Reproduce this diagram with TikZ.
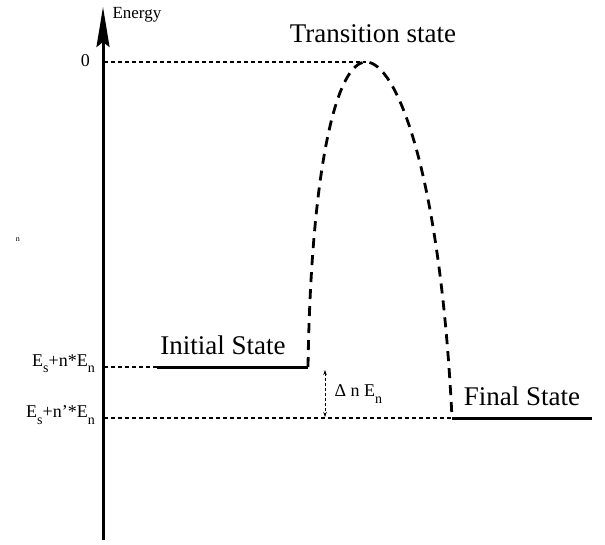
\documentclass[tikz,border=0pt]{standalone}
\usepackage{fontspec}
\setmainfont{Liberation Serif}
\usetikzlibrary{arrows.meta}
\newcommand{\lowsub}[1]{\raisebox{-0.35em}{\fontsize{14}{15}\selectfont #1}}
\begin{document}
\begin{tikzpicture}[x=1pt,y=-1pt,
  level/.style={line width=3pt},
  guide/.style={line width=1.1pt,dash pattern=on 4pt off 3pt},
  barrier/.style={line width=2.8pt,dash pattern=on 10pt off 7pt},
  statelabel/.style={font=\fontsize{27}{30}\selectfont},
  ticklabel/.style={anchor=east,font=\fontsize{18}{20}\selectfont,inner sep=1pt}]
  \useasboundingbox (0,0) rectangle (605,544);
  % energy axis
  \coordinate (origin) at (103,540);
  \coordinate (top) at (103,7);
  \draw[line width=3pt,-{Stealth[length=40pt,width=13pt,inset=5pt]}] (origin) -- (top);
  \node[anchor=west,font=\fontsize{17}{19}\selectfont] (energy) at (109,15) {Energy};
  % points on the axis and on the profile
  \coordinate (ax-ts) at (104,62);
  \coordinate (ax-is) at (104,367);
  \coordinate (ax-fs) at (104,418);
  \coordinate (ts) at (366,62);
  \coordinate (is-l) at (157,367);
  \coordinate (is-r) at (308,367);
  \coordinate (fs-l) at (452,418);
  \coordinate (fs-r) at (592,418);
  % guide lines
  \draw[guide] (ax-ts) -- (ts);
  \draw[guide] (ax-is) -- (is-l);
  \draw[guide] (ax-fs) -- (fs-l);
  % levels and barrier
  \draw[level] (is-l) -- (is-r);
  \draw[level] (fs-l) -- (fs-r);
  \draw[barrier] (is-r) .. controls (311,170) and (336,62) .. (ts)
    .. controls (396,62) and (440,170) .. (fs-l);
  % level difference
  \coordinate (da-top) at (325,370);
  \coordinate (da-bot) at (325,417);
  \draw[line width=0.7pt,dash pattern=on 3pt off 2pt,{Stealth[length=5pt,width=3.5pt]}-{Stealth[length=5pt,width=3.5pt]}] (da-top) -- (da-bot);
  \node[anchor=west,font=\fontsize{18}{20}\selectfont] (dn) at (331,394) {Δ n E\lowsub{n}};
  % labels
  \node[ticklabel] (zero) at (91,61) {0};
  \node[ticklabel] (e-is) at (96,364) {E\lowsub{s}+n*E\lowsub{n}};
  \node[ticklabel] (e-fs) at (96,415) {E\lowsub{s}+n'*E\lowsub{n}};
  \node[statelabel] (is-label) at (223,345) {Initial State};
  \node[statelabel] (fs-label) at (522,396) {Final State};
  \node[statelabel] (ts-label) at (373,34) {Transition state};
  \node[font=\fontsize{8}{9}\selectfont] (stray) at (18,240) {n};
\end{tikzpicture}
\end{document}
